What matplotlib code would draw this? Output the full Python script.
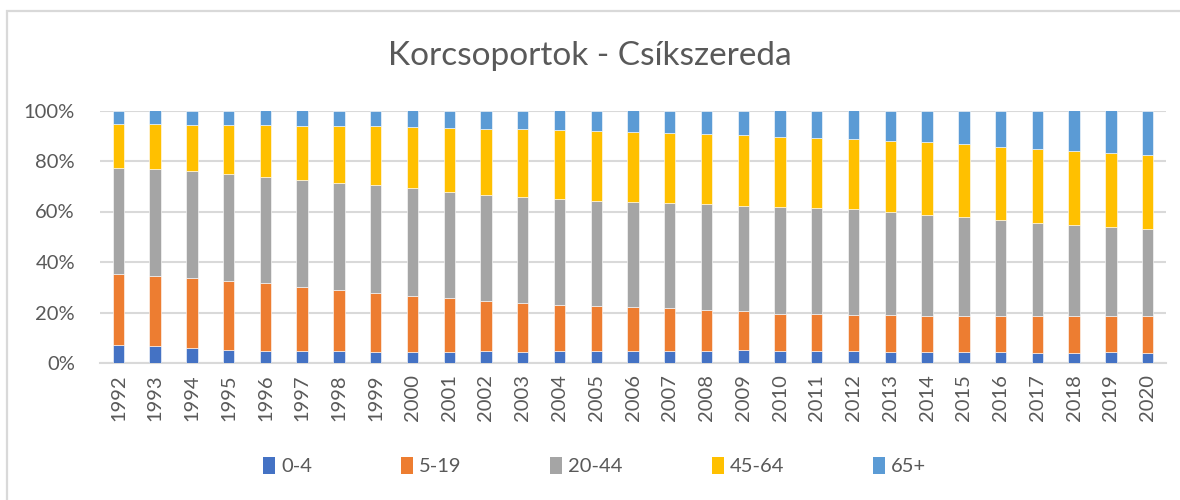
import matplotlib
matplotlib.use('Agg')
import matplotlib.pyplot as plt
from matplotlib.patches import Patch, Rectangle
from matplotlib.ticker import PercentFormatter
import numpy as np

plt.rcParams['font.family'] = ['Lato', 'DejaVu Sans']

# Years and age-group shares (%)
years = list(range(1992, 2021))
age_groups = ['0-4', '5-19', '20-44', '45-64', '65+']
colors = ['#4472C4', '#ED7D31', '#A5A5A5', '#FFC000', '#5B9BD5']

g0_4 = [7.3, 6.7, 6.0, 5.3, 4.8, 4.8, 4.8, 4.5, 4.5, 4.5, 4.8, 4.5, 4.8, 4.8, 4.8,
        4.9, 4.9, 5.2, 4.8, 4.8, 4.8, 4.5, 4.4, 4.4, 4.4, 4.1, 4.1, 4.4, 4.0]
g5_19 = [28.0, 27.8, 27.7, 27.2, 26.7, 25.4, 24.3, 23.4, 22.2, 21.3, 19.8, 19.3, 18.2, 17.8, 17.2,
         16.8, 16.1, 15.2, 14.8, 14.6, 14.4, 14.5, 14.4, 14.4, 14.3, 14.6, 14.6, 14.3, 14.7]
g20_44 = [42.1, 42.2, 42.5, 42.5, 42.0, 42.4, 42.3, 42.5, 42.5, 42.1, 42.1, 42.1, 42.1, 41.7, 41.9,
          41.7, 41.8, 41.9, 42.2, 41.8, 41.6, 40.8, 39.8, 38.9, 38.0, 36.9, 36.1, 35.3, 34.3]
g45_64 = [17.4, 18.0, 18.2, 19.3, 20.7, 21.4, 22.4, 23.3, 24.2, 25.2, 26.0, 26.7, 27.1, 27.5, 27.6,
          27.7, 27.7, 27.9, 27.8, 28.1, 28.0, 28.3, 29.0, 29.1, 28.9, 29.2, 29.2, 29.2, 29.4]
g65 = [5.2, 5.3, 5.6, 5.7, 5.8, 6.0, 6.2, 6.3, 6.6, 6.9, 7.3, 7.4, 7.8, 8.2, 8.5,
       8.9, 9.5, 9.8, 10.4, 10.7, 11.2, 11.9, 12.4, 13.2, 14.4, 15.2, 16.0, 16.8, 17.6]

series = np.array([g0_4, g5_19, g20_44, g45_64, g65], dtype=float)
series = series / series.sum(axis=0) * 100

fig = plt.figure(figsize=(11.8, 5.0), dpi=100)
ax = fig.add_axes([100 / 1180, 137 / 500, 1066 / 1180, 252.5 / 500])

x = np.arange(len(years))
bottom = np.zeros(len(years))
for vals, col in zip(series, colors):
    ax.bar(x, vals, bottom=bottom, width=0.31, color=col, edgecolor='#FFFFFF',
           linewidth=0.4, zorder=3)
    bottom += vals

ax.set_xlim(-0.5, len(years) - 0.5)
ax.set_ylim(0, 100)
ax.set_yticks(range(0, 101, 20))
ax.yaxis.set_major_formatter(PercentFormatter(decimals=0))
ax.set_xticks(x)
ax.set_xticklabels([str(y) for y in years], rotation=90)
ax.tick_params(axis='both', length=0, labelsize=14.5, colors='#595959')
ax.tick_params(axis='x', pad=8)
ax.tick_params(axis='y', pad=18)
ax.grid(axis='y', color='#D9D9D9', linewidth=1.5, zorder=0)
for s in ['top', 'right', 'left']:
    ax.spines[s].set_visible(False)
ax.spines['bottom'].set_color('#D9D9D9')
ax.spines['bottom'].set_linewidth(1.5)

fig.text(0.5, 1 - 56 / 500, 'Korcsoportok - Csíkszereda', ha='center', va='center',
         fontsize=24, color='#595959')

handles = [Patch(facecolor=c, edgecolor='none') for c in colors]
fig.legend(handles, age_groups, loc='center', bbox_to_anchor=(0.504, 1 - 466 / 500),
           ncol=5, frameon=False, fontsize=14.5, labelcolor='#595959',
           handlelength=0.6, handleheight=0.9, handletextpad=0.3, columnspacing=4.4)

# chart area border
fig.patches.append(Rectangle((7 / 1180, -0.1), 1.2, 1.1 - 11.5 / 500,
                             transform=fig.transFigure, fill=False,
                             edgecolor='#D9D9D9', linewidth=1.6))

fig.savefig('out.png', dpi=100)
